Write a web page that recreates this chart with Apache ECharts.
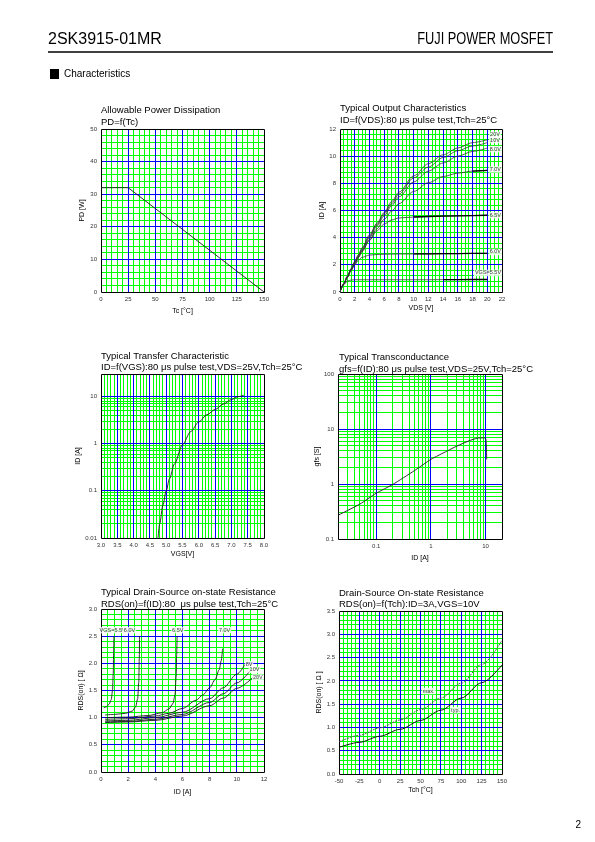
<!DOCTYPE html>
<html>
<head>
<meta charset="utf-8">
<script src="https://cdn.jsdelivr.net/npm/echarts@6.0.0/dist/echarts.min.js"></script>
<style>
html,body{margin:0;padding:0;background:#fff;}
#chart{width:595px;height:842px;}
</style>
</head>
<body>
<div id="chart"></div>
<script>
const FONT = 'Liberation Sans';
const GREEN = '#00ff00';
const BLUE = '#0000ff';
const INK = '#1a1a1a';

// ---- Chart 1: Allowable Power Dissipation ----
const pdTc = [0, 25, 150];
const pdW = [32, 32, 0];

// ---- Chart 2: Typical Output Characteristics ----
const outVds = [0, 0.5, 1, 1.5, 2, 2.5, 3, 4, 5, 6, 7, 8, 10, 12, 14, 16, 18, 20];
const outId20 = [0, 0.62, 1.18, 1.73, 2.25, 2.75, 3.25, 4.2, 5.05, 5.85, 6.65, 7.35, 8.55, 9.45, 10.1, 10.6, 11.0, 11.2];
const outId10 = [0, 0.6, 1.15, 1.7, 2.2, 2.7, 3.2, 4.1, 4.95, 5.75, 6.5, 7.2, 8.4, 9.2, 9.9, 10.4, 10.75, 11.0];
const outId8 = [0, 0.58, 1.12, 1.65, 2.15, 2.6, 3.1, 4.0, 4.85, 5.6, 6.35, 7.0, 8.1, 8.9, 9.5, 10.0, 10.35, 10.6];
const outId7 = [0, 0.55, 1.07, 1.58, 2.05, 2.55, 3.0, 3.85, 4.65, 5.35, 5.95, 6.5, 7.4, 8.05, 8.5, 8.75, 8.9, 8.95];
const outId65 = [0, 0.55, 1.08, 1.6, 2.1, 2.55, 3.0, 3.8, 4.5, 5.0, 5.3, 5.45, 5.52, 5.56, 5.59, 5.61, 5.63, 5.65];
const outId6 = [0, 0.58, 1.12, 1.6, 2.0, 2.35, 2.55, 2.72, 2.76, 2.78, 2.79, 2.8, 2.8, 2.81, 2.82, 2.83, 2.84, 2.85];
const outId55 = [0, 0.55, 0.8, 0.88, 0.9, 0.9, 0.9, 0.9, 0.9, 0.9, 0.9, 0.9, 0.9, 0.9, 0.91, 0.91, 0.92, 0.92];
const outLabels = ['20V', '10V', '8.0V', '7.0V', '6.5V', '6.0V', 'VGS=5.5V'];
const outLabelVds = [21.05, 21.05, 21.1, 21.1, 21.1, 21.1, 20.1];
const outLabelId = [11.58, 11.19, 10.52, 9.02, 5.66, 2.95, 1.4];
// VDS from which each curve is drawn in bold black (null = none)
const outBoldFrom = [null, null, null, 18, 10, 10, 14];

// ---- Chart 3: Typical Transfer Characteristic ----
const trVgs = [4.75, 4.8, 4.9, 5.0, 5.1, 5.25, 5.5, 5.75, 6.0, 6.25, 6.5, 6.75, 7.0, 7.2, 7.38];
const trId = [0.01, 0.02, 0.05, 0.1, 0.18, 0.37, 0.95, 1.8, 2.9, 4.1, 5.3, 6.9, 8.6, 9.9, 10.6];

// ---- Chart 4: Typical Transconductance ----
const gfsId = [0.02, 0.05, 0.1, 0.2, 0.5, 1, 2, 3, 5, 7, 9, 10, 10.3, 10.5];
const gfsS = [0.27, 0.43, 0.68, 0.98, 1.75, 2.8, 4.0, 4.9, 6.1, 6.8, 6.9, 6.8, 5.5, 2.8];

// log-axis minor grid multipliers
const logMult = [2, 3, 4, 5, 6, 7, 8, 9];

// ---- Chart 5: Typical Drain-Source on-state Resistance ----
const rds55Id = [0.2, 0.4, 0.6, 0.75, 0.85, 0.9, 0.93, 0.95];
const rds55 = [1.18, 1.2, 1.25, 1.33, 1.5, 1.8, 2.2, 2.5];
const rds60Id = [0.3, 1, 1.8, 2.3, 2.55, 2.7, 2.78, 2.82, 2.84];
const rds60 = [1.05, 1.06, 1.08, 1.12, 1.2, 1.35, 1.65, 2.1, 2.5];
const rds65Id = [0.3, 2, 3.5, 4.5, 5.0, 5.3, 5.45, 5.53, 5.57, 5.6];
const rds65 = [1.0, 1.01, 1.04, 1.09, 1.16, 1.26, 1.42, 1.75, 2.15, 2.5];
const rds70Id = [0.3, 2, 4, 5, 6, 7, 7.5, 8, 8.4, 8.7, 8.85, 8.95];
const rds70 = [0.97, 0.98, 1.03, 1.08, 1.17, 1.32, 1.42, 1.55, 1.7, 1.88, 2.05, 2.27];
const rds8Id = [0.3, 2, 4, 6, 8, 9, 10, 10.6];
const rds8 = [0.94, 0.95, 1.0, 1.1, 1.35, 1.55, 1.8, 1.98];
const rds10Id = [0.3, 2, 4, 6, 8, 9, 10, 11];
const rds10 = [0.92, 0.93, 0.97, 1.06, 1.28, 1.44, 1.64, 1.87];
const rds20Id = [0.3, 2, 4, 6, 8, 9, 10, 11.3];
const rds20 = [0.91, 0.92, 0.95, 1.03, 1.22, 1.36, 1.54, 1.77];
const rdsLabels = ['VGS=5.5V', '6.0V', '6.5V', '7.0V', '8V', '10V', '20V'];
const rdsLabelId = [0.86, 2.1, 5.65, 9.1, 10.9, 11.3, 11.55];
const rdsLabelR = [2.61, 2.61, 2.61, 2.61, 1.98, 1.88, 1.74];

// ---- Chart 6: Drain-Source On-state Resistance vs Tch ----
const tch = [-50, -25, 0, 25, 50, 75, 100, 125, 150];
const rdsMax = [0.69, 0.83, 0.99, 1.16, 1.38, 1.63, 1.95, 2.35, 2.87];
const rdsTyp = [0.57, 0.68, 0.81, 0.96, 1.15, 1.37, 1.63, 1.96, 2.34];
const tchLabels = ['max.', 'typ.'];
const tchLabelX = [60, 93];
const tchLabelY = [1.78, 1.37];

function zip(xs, ys) { return xs.map((x, i) => [x, ys[i]]); }

const nameStyle = { fontSize: 7, color: '#000', fontFamily: FONT };
const labelStyle = { fontSize: 6, color: '#333', fontFamily: FONT };

function linAxis(gi, min, max, interval, name, gap, fmt) {
  return {
    type: 'value', gridIndex: gi, min: min, max: max, interval: interval,
    name: name, nameLocation: 'middle', nameGap: gap, nameTextStyle: nameStyle,
    axisLine: { show: false }, axisTick: { show: false },
    axisLabel: Object.assign({ margin: 4, formatter: fmt }, labelStyle),
    splitLine: { show: false }, minorSplitLine: { show: false }
  };
}
function logLabel(v) {
  const l = Math.log10(v);
  const r = Math.round(l);
  if (Math.abs(l - r) < 1e-6) return String(Number(Math.pow(10, r).toFixed(Math.max(0, -r))));
  return '';
}
function logAxis(gi, min, max, name, gap) {
  return {
    type: 'log', logBase: 10, gridIndex: gi, min: min, max: max,
    name: name, nameLocation: 'middle', nameGap: gap, nameTextStyle: nameStyle,
    axisLine: { show: false }, axisTick: { show: false },
    axisLabel: Object.assign({ margin: 4, formatter: logLabel }, labelStyle),
    splitLine: { show: false }
  };
}

// grid-line value helpers (interior values only)
function linMajor(min, max, step) {
  const out = [];
  const n = Math.round((max - min) / step);
  for (let i = 1; i < n; i++) out.push(+(min + i * step).toFixed(6));
  return out;
}
function linMinor(min, max, step, majorStep) {
  return linMajor(min, max, step).filter(v => {
    const q = (v - min) / majorStep;
    return Math.abs(q - Math.round(q)) > 1e-6;
  });
}
function logMinor(decades, lo, hi) {
  return decades.flatMap(d => logMult.map(m => +(m * d).toPrecision(6))).filter(v => v > lo * 1.0001 && v < hi * 0.9999);
}

function gridSeries(gi, xr, yr, xMaj, xMin, yMaj, yMin) {
  const data = [];
  xMin.forEach(v => data.push([v, yr[0], 0]));
  yMin.forEach(v => data.push([xr[0], v, 1]));
  xMaj.forEach(v => data.push([v, yr[0], 2]));
  yMaj.forEach(v => data.push([xr[0], v, 3]));
  data.push([xr[0], yr[0], 4]);
  return {
    type: 'custom', xAxisIndex: gi, yAxisIndex: gi, z: 1, silent: true, animation: false, clip: false,
    encode: { x: 0, y: 1 }, data: data,
    renderItem: function (params, api) {
      const cs = params.coordSys;
      const kind = api.value(2);
      const p = api.coord([api.value(0), api.value(1)]);
      const snap = v => Math.floor(v) + 0.5;
      const x0 = snap(cs.x), x1 = snap(cs.x + cs.width), y0 = snap(cs.y), y1 = snap(cs.y + cs.height);
      if (kind === 4) {
        return { type: 'rect', shape: { x: x0, y: y0, width: x1 - x0, height: y1 - y0 },
          style: { fill: 'none', stroke: '#000', lineWidth: 1 } };
      }
      const color = kind >= 2 ? BLUE : GREEN;
      if (kind % 2 === 0) {
        const x = snap(p[0]);
        return { type: 'line', shape: { x1: x, y1: y0, x2: x, y2: y1 }, style: { stroke: color, lineWidth: 1 } };
      }
      const y = snap(p[1]);
      return { type: 'line', shape: { x1: x0, y1: y, x2: x1, y2: y }, style: { stroke: color, lineWidth: 1 } };
    }
  };
}

function curve(gi, data, extra) {
  return Object.assign({
    type: 'line', xAxisIndex: gi, yAxisIndex: gi, data: data, showSymbol: false,
    symbol: 'none', smooth: 0.3, smoothMonotone: 'x', z: 4, animation: false,
    lineStyle: { color: INK, width: 0.9 }, silent: true
  }, extra || {});
}
function labelSeries(gi, names, xs, ys) {
  return {
    type: 'scatter', xAxisIndex: gi, yAxisIndex: gi, symbolSize: 1, z: 6, animation: false, silent: true,
    itemStyle: { color: 'rgba(0,0,0,0)' },
    label: { show: true, position: 'inside', formatter: '{b}', fontSize: 5.5, color: '#000', fontFamily: FONT,
      backgroundColor: '#fff', padding: [0.5, 1, 0, 1] },
    data: names.map((n, i) => ({ name: n, value: [xs[i], ys[i]] }))
  };
}

const grids = [
  { left: 101, top: 129, width: 163, height: 163 },
  { left: 340, top: 129, width: 162, height: 163 },
  { left: 101, top: 374, width: 163, height: 164 },
  { left: 338, top: 374, width: 164, height: 165 },
  { left: 101, top: 609, width: 163, height: 163 },
  { left: 339, top: 611, width: 163, height: 163 }
].map(g => Object.assign({ show: false }, g));

const f1 = v => v.toFixed(1);

const xAxes = [
  linAxis(0, 0, 150, 25, 'Tc [°C]', 16),
  linAxis(1, 0, 22, 2, 'VDS [V]', 13),
  linAxis(2, 3.0, 8.0, 0.5, 'VGS[V]', 13, f1),
  logAxis(3, 0.02, 20, 'ID [A]', 16),
  linAxis(4, 0, 12, 2, 'ID [A]', 17),
  linAxis(5, -50, 150, 25, 'Tch [°C]', 13)
];
const yAxes = [
  linAxis(0, 0, 50, 10, 'PD [W]', 15),
  linAxis(1, 0, 12, 2, 'ID [A]', 14),
  logAxis(2, 0.01, 30, 'ID [A]', 15),
  logAxis(3, 0.1, 100, 'gfs [S]', 13),
  linAxis(4, 0, 3.0, 0.5, 'RDS(on) [ Ω]', 15, f1),
  linAxis(5, 0, 3.5, 0.5, 'RDS(on) [ Ω ]', 14, f1)
];

const outCurves = [outId20, outId10, outId8, outId7, outId65, outId6, outId55];
const outSeries = [];
outCurves.forEach((ids, k) => {
  outSeries.push(curve(1, zip(outVds, ids), { lineStyle: { color: '#333', width: 0.8 } }));
  if (outBoldFrom[k] !== null) {
    const pts = zip(outVds, ids).filter(p => p[0] >= outBoldFrom[k]);
    outSeries.push(curve(1, pts, { z: 5, smooth: false, lineStyle: { color: '#000', width: 1.3 } }));
  }
});

const series = [
  gridSeries(0, [0, 150], [0, 50], linMajor(0, 150, 25), linMinor(0, 150, 5, 25), linMajor(0, 50, 10), linMinor(0, 50, 2, 10)),
  gridSeries(1, [0, 22], [0, 12], linMajor(0, 22, 2), linMinor(0, 22, 0.5, 2), linMajor(0, 12, 2), linMinor(0, 12, 0.4, 2)),
  gridSeries(2, [3, 8], [0.01, 30], linMajor(3, 8, 0.5), linMinor(3, 8, 0.1, 0.5), [0.1, 1, 10], logMinor([0.01, 0.1, 1], 0.01, 10)),
  gridSeries(3, [0.02, 20], [0.1, 100], [0.1, 1, 10], logMinor([0.01, 0.1, 1], 0.02, 20), [1, 10], logMinor([0.1, 1, 10], 0.1, 100)),
  gridSeries(4, [0, 12], [0, 3], linMajor(0, 12, 2), linMinor(0, 12, 0.5, 2), linMajor(0, 3, 0.5), linMinor(0, 3, 0.1, 0.5)),
  gridSeries(5, [-50, 150], [0, 3.5], linMajor(-50, 150, 25), linMinor(-50, 150, 5, 25), linMajor(0, 3.5, 0.5), linMinor(0, 3.5, 0.1, 0.5)),

  curve(0, zip(pdTc, pdW), { smooth: false }),

  ...outSeries,
  labelSeries(1, outLabels, outLabelVds, outLabelId),

  curve(2, zip(trVgs, trId)),

  curve(3, zip(gfsId, gfsS), { smoothMonotone: null, smooth: 0.2 }),

  curve(4, zip(rds55Id, rds55)),
  curve(4, zip(rds60Id, rds60)),
  curve(4, zip(rds65Id, rds65)),
  curve(4, zip(rds70Id, rds70)),
  curve(4, zip(rds8Id, rds8)),
  curve(4, zip(rds10Id, rds10)),
  curve(4, zip(rds20Id, rds20)),
  labelSeries(4, rdsLabels, rdsLabelId, rdsLabelR),

  curve(5, zip(tch, rdsMax), { lineStyle: { color: '#555', width: 1, type: [2, 1] } }),
  curve(5, zip(tch, rdsTyp), { lineStyle: { color: '#111', width: 1 } }),
  labelSeries(5, tchLabels, tchLabelX, tchLabelY)
];

function txt(x, y, text, size, extra, el) {
  return Object.assign({ type: 'text', x: x, y: y, silent: true,
    style: Object.assign({ text: text, fontSize: size, fontFamily: FONT, fill: '#000', verticalAlign: 'middle' }, extra || {}) }, el || {});
}

const graphics = [
  txt(48, 40, '2SK3915-01MR', 16),
  txt(553, 40, 'FUJI POWER MOSFET', 16, { align: 'right' }, { scaleX: 0.8 }),
  { type: 'line', silent: true, shape: { x1: 48, y1: 52, x2: 553, y2: 52 }, style: { stroke: '#000', lineWidth: 1.5 } },
  { type: 'rect', silent: true, shape: { x: 50, y: 69, width: 9, height: 10 }, style: { fill: '#000' } },
  txt(64, 74, 'Characteristics', 10),

  txt(101, 110, 'Allowable Power Dissipation', 9.5),
  txt(101, 122, 'PD=f(Tc)', 9.5),
  txt(340, 108.5, 'Typical Output Characteristics', 9.5),
  txt(340, 120.5, 'ID=f(VDS):80 μs pulse test,Tch=25°C', 9.5),
  txt(101, 356, 'Typical Transfer Characteristic', 9.5),
  txt(101, 367.5, 'ID=f(VGS):80 μs pulse test,VDS=25V,Tch=25°C', 9.5),
  txt(339, 357, 'Typical Transconductance', 9.5),
  txt(339, 369, 'gfs=f(ID):80 μs pulse test,VDS=25V,Tch=25°C', 9.5),
  txt(101, 592, 'Typical Drain-Source on-state Resistance', 9.5),
  txt(101, 604, 'RDS(on)=f(ID):80  μs pulse test,Tch=25°C', 9.5),
  txt(339, 593, 'Drain-Source On-state Resistance', 9.5),
  txt(339, 604.5, 'RDS(on)=f(Tch):ID=3A,VGS=10V', 9.5),

  txt(581, 825, '2', 10, { align: 'right' })
];

const chart = echarts.init(document.getElementById('chart'), null, { renderer: 'canvas' });
chart.setOption({
  animation: false,
  backgroundColor: '#fff',
  textStyle: { fontFamily: FONT },
  grid: grids,
  xAxis: xAxes,
  yAxis: yAxes,
  series: series,
  graphic: { elements: graphics }
});
</script>
</body>
</html>
